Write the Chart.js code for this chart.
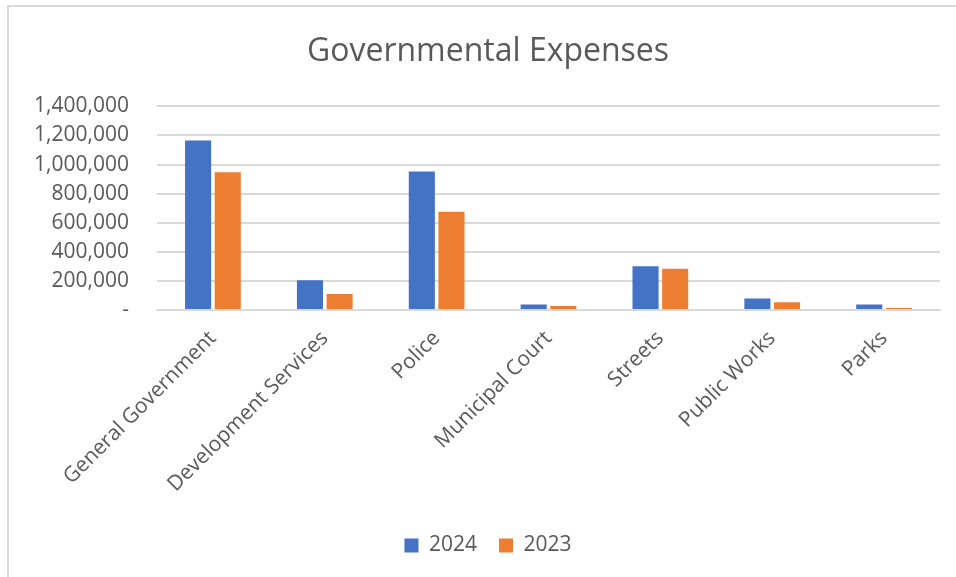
<!DOCTYPE html>
<html>
<head>
<meta charset="utf-8">
<script src="https://cdn.jsdelivr.net/npm/chart.js@4.4.0/dist/chart.umd.min.js"></script>
<style>
  html, body { margin: 0; padding: 0; background: #fff; }
  #frame {
    position: absolute; left: 7px; top: 5px; width: 1000px; height: 700px;
    border-top: 2px solid #d9d9d9; border-left: 2px solid #d9d9d9;
  }
  canvas { position: absolute; left: 0; top: 0; }
</style>
</head>
<body>
<div id="frame"></div>
<canvas id="grafico" width="956" height="577"></canvas>
<script>
// datos
const categorias = ["General Government", "Development Services", "Police", "Municipal Court", "Streets", "Public Works", "Parks"];
const gastos2024 = [1165000, 205000, 952000, 37000, 301000, 78000, 37000];
const gastos2023 = [947000, 110000, 676000, 28000, 283000, 53000, 14000];
const ticksY = [0, 200000, 400000, 600000, 800000, 1000000, 1200000, 1400000];

const gris = "#595959";
const fuente = "'Open Sans', sans-serif";

const ctx = document.getElementById('grafico').getContext('2d');

new Chart(ctx, {
    type: 'bar',
    data: {
        labels: categorias,
        datasets: [
            { label: '2024', data: gastos2024, backgroundColor: '#4472C4' },
            { label: '2023', data: gastos2023, backgroundColor: '#ED7D31' }
        ]
    },
    options: {
        responsive: false,
        animation: false,
        layout: { padding: { left: 36, right: 16, top: 33, bottom: 11 } },
        datasets: { bar: { categoryPercentage: 0.53, barPercentage: 0.88 } },
        plugins: {
            title: {
                display: true,
                text: 'Governmental Expenses',
                color: gris,
                font: { family: fuente, size: 32, weight: 'normal' },
                padding: { top: 0, bottom: 35 }
            },
            legend: {
                position: 'bottom',
                labels: {
                    color: gris,
                    font: { family: fuente, size: 21 },
                    boxWidth: 14, boxHeight: 14,
                    padding: 22
                }
            },
            tooltip: { enabled: false }
        },
        scales: {
            x: {
                grid: { display: false, drawTicks: false },
                border: { color: '#d9d9d9', width: 2 },
                ticks: {
                    color: gris,
                    font: { family: fuente, size: 21 },
                    minRotation: 45, maxRotation: 45,
                    padding: 16
                }
            },
            y: {
                min: 0, max: 1400000,
                afterBuildTicks(axis) {
                    axis.ticks = ticksY.map(v => ({ value: v }));
                },
                // ancho fijo para que el area empiece en x=157
                afterFit(axis) { axis.width = 121; },
                grid: { color: '#d9d9d9', lineWidth: 2, drawTicks: false },
                border: { display: false },
                ticks: {
                    color: gris,
                    font: { family: fuente, size: 21 },
                    padding: 28,
                    callback: v => v === 0 ? '-' : v.toLocaleString('en-US')
                }
            }
        }
    }
});
</script>
</body>
</html>
